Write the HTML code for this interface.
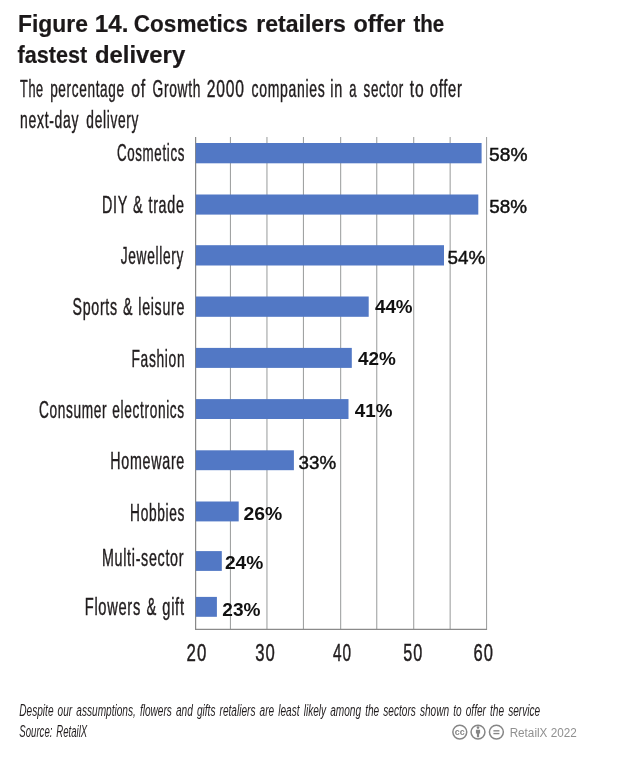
<!DOCTYPE html>
<html lang="en">
<head>
<meta charset="utf-8">
<title>Figure 14. Cosmetics retailers offer the fastest delivery</title>
<style>
html,body{margin:0;padding:0;background:#fff;}
body{width:619px;height:757px;overflow:hidden;}
svg{display:block;}
text{font-family:"Liberation Sans",Arial,Helvetica,sans-serif;fill:#211d1e;white-space:pre;}
.title{font-weight:bold;font-size:23.6px;fill:#1b1819;stroke:#1b1819;stroke-width:0.2px;}
.sub{font-size:24.4px;letter-spacing:1.2px;stroke:#211d1e;stroke-width:0.45px;}
.cat{font-size:24.4px;letter-spacing:1.2px;word-spacing:1px;stroke:#211d1e;stroke-width:0.45px;}
.tick{font-size:24px;letter-spacing:1.5px;stroke:#211d1e;stroke-width:0.45px;}
.vm{font-size:18.7px;fill:#111;stroke:#111;stroke-width:0.45px;}
.vb{font-size:18.7px;font-weight:bold;fill:#111;}
.foot{font-size:15.6px;font-style:italic;word-spacing:2px;}
.cr{font-size:12.3px;fill:#909090;}
.cc{font-weight:bold;fill:#868686;}
</style>
</head>
<body>
<svg width="619" height="757" viewBox="0 0 619 757" role="img" aria-label="Bar chart: percentage of Growth 2000 companies in a sector to offer next-day delivery">
<rect x="0" y="0" width="619" height="757" fill="#ffffff"/>
<g stroke="#a1a3a3" stroke-width="1.1" fill="none">
<line x1="230.45" y1="137.0" x2="230.45" y2="629.4"/>
<line x1="266.95" y1="137.0" x2="266.95" y2="629.4"/>
<line x1="303.45" y1="137.0" x2="303.45" y2="629.4"/>
<line x1="340.65" y1="137.0" x2="340.65" y2="629.4"/>
<line x1="376.75" y1="137.0" x2="376.75" y2="629.4"/>
<line x1="413.7" y1="137.0" x2="413.7" y2="629.4"/>
<line x1="450.15" y1="137.0" x2="450.15" y2="629.4"/>
<line x1="486.55" y1="137.0" x2="486.55" y2="629.4"/>
</g>
<g stroke="#7c7c7c" stroke-width="1.1" fill="none"><line x1="195.65" y1="137.0" x2="195.65" y2="629.9"/><line x1="195.15" y1="629.4" x2="487.05" y2="629.4" stroke="#8a8a8a"/></g>
<g fill="#5278c5">
<rect x="195.85" y="143.0" width="285.75" height="20.30"/>
<rect x="195.85" y="194.5" width="282.45" height="20.10"/>
<rect x="195.85" y="245.2" width="248.15" height="20.30"/>
<rect x="195.85" y="296.5" width="172.85" height="20.30"/>
<rect x="195.85" y="347.9" width="155.95" height="20.00"/>
<rect x="195.85" y="399.1" width="152.65" height="19.90"/>
<rect x="195.85" y="450.3" width="98.05" height="19.90"/>
<rect x="195.85" y="501.5" width="42.85" height="19.90"/>
<rect x="195.85" y="551.1" width="25.95" height="19.80"/>
<rect x="195.85" y="596.9" width="21.05" height="19.90"/>
</g>
<text class="title" y="32.20"><tspan x="17.97" textLength="69.92" lengthAdjust="spacingAndGlyphs">Figure</tspan> <tspan x="94.78" textLength="33.69" lengthAdjust="spacingAndGlyphs">14.</tspan> <tspan x="133.87" textLength="113.86" lengthAdjust="spacingAndGlyphs">Cosmetics</tspan> <tspan x="256.28" textLength="89.67" lengthAdjust="spacingAndGlyphs">retailers</tspan> <tspan x="353.39" textLength="51.97" lengthAdjust="spacingAndGlyphs">offer</tspan> <tspan x="413.44" textLength="30.78" lengthAdjust="spacingAndGlyphs">the</tspan></text>
<text class="title" y="63.00"><tspan x="17.62" textLength="69.65" lengthAdjust="spacingAndGlyphs">fastest</tspan> <tspan x="94.92" textLength="90.31" lengthAdjust="spacingAndGlyphs">delivery</tspan></text>
<text class="sub" y="96.90"><tspan x="20.03" textLength="23.74" lengthAdjust="spacingAndGlyphs">The</tspan> <tspan x="50.15" textLength="74.60" lengthAdjust="spacingAndGlyphs">percentage</tspan> <tspan x="131.28" textLength="14.73" lengthAdjust="spacingAndGlyphs">of</tspan> <tspan x="152.53" textLength="48.51" lengthAdjust="spacingAndGlyphs">Growth</tspan> <tspan x="206.76" textLength="37.88" lengthAdjust="spacingAndGlyphs">2000</tspan> <tspan x="251.53" textLength="73.83" lengthAdjust="spacingAndGlyphs">companies</tspan> <tspan x="330.27" textLength="12.64" lengthAdjust="spacingAndGlyphs">in</tspan> <tspan x="349.17" textLength="7.85" lengthAdjust="spacingAndGlyphs">a</tspan> <tspan x="363.55" textLength="40.41" lengthAdjust="spacingAndGlyphs">sector</tspan> <tspan x="409.81" textLength="14.57" lengthAdjust="spacingAndGlyphs">to</tspan> <tspan x="429.82" textLength="32.71" lengthAdjust="spacingAndGlyphs">offer</tspan></text>
<text class="sub" y="127.50"><tspan x="20.10" textLength="59.08" lengthAdjust="spacingAndGlyphs">next-day</tspan> <tspan x="86.35" textLength="52.73" lengthAdjust="spacingAndGlyphs">delivery</tspan></text>
<text class="cat" x="116.95" y="161.20" textLength="68.07" lengthAdjust="spacingAndGlyphs">Cosmetics</text>
<text class="cat" x="101.96" y="212.50" textLength="82.65" lengthAdjust="spacingAndGlyphs">DIY &amp; trade</text>
<text class="cat" x="120.71" y="263.90" textLength="63.26" lengthAdjust="spacingAndGlyphs">Jewellery</text>
<text class="cat" x="72.59" y="315.40" textLength="112.41" lengthAdjust="spacingAndGlyphs">Sports &amp; leisure</text>
<text class="cat" x="131.50" y="366.70" textLength="53.75" lengthAdjust="spacingAndGlyphs">Fashion</text>
<text class="cat" x="38.93" y="417.90" textLength="145.91" lengthAdjust="spacingAndGlyphs">Consumer electronics</text>
<text class="cat" x="110.36" y="469.30" textLength="74.65" lengthAdjust="spacingAndGlyphs">Homeware</text>
<text class="cat" x="130.10" y="521.00" textLength="54.94" lengthAdjust="spacingAndGlyphs">Hobbies</text>
<text class="cat" x="101.96" y="566.20" textLength="82.25" lengthAdjust="spacingAndGlyphs">Multi-sector</text>
<text class="cat" x="84.73" y="615.20" textLength="99.96" lengthAdjust="spacingAndGlyphs">Flowers &amp; gift</text>
<text class="vm" x="489.06" y="161.20" textLength="38.39" lengthAdjust="spacingAndGlyphs">58%</text>
<text class="vm" x="489.27" y="213.00" textLength="37.77" lengthAdjust="spacingAndGlyphs">58%</text>
<text class="vm" x="447.57" y="264.20" textLength="37.77" lengthAdjust="spacingAndGlyphs">54%</text>
<text class="vb" x="374.91" y="313.40" textLength="37.68" lengthAdjust="spacingAndGlyphs">44%</text>
<text class="vb" x="358.01" y="365.10" textLength="37.89" lengthAdjust="spacingAndGlyphs">42%</text>
<text class="vb" x="354.82" y="417.20" textLength="37.58" lengthAdjust="spacingAndGlyphs">41%</text>
<text class="vm" x="298.61" y="468.50" textLength="37.53" lengthAdjust="spacingAndGlyphs">33%</text>
<text class="vb" x="243.53" y="520.20" textLength="38.78" lengthAdjust="spacingAndGlyphs">26%</text>
<text class="vb" x="224.93" y="568.90" textLength="38.37" lengthAdjust="spacingAndGlyphs">24%</text>
<text class="vb" x="222.34" y="615.90" textLength="38.16" lengthAdjust="spacingAndGlyphs">23%</text>
<text class="tick" x="186.51" y="661.20" textLength="20.84" lengthAdjust="spacingAndGlyphs">20</text>
<text class="tick" x="255.22" y="661.20" textLength="20.61" lengthAdjust="spacingAndGlyphs">30</text>
<text class="tick" x="332.89" y="661.20" textLength="19.03" lengthAdjust="spacingAndGlyphs">40</text>
<text class="tick" x="403.20" y="661.20" textLength="20.09" lengthAdjust="spacingAndGlyphs">50</text>
<text class="tick" x="473.41" y="661.20" textLength="20.51" lengthAdjust="spacingAndGlyphs">60</text>
<text class="foot" x="19.29" y="715.70" textLength="520.89" lengthAdjust="spacingAndGlyphs">Despite our assumptions, flowers and gifts retaliers are least likely among the sectors shown to offer the service</text>
<text class="foot" x="19.33" y="737.10" textLength="67.87" lengthAdjust="spacingAndGlyphs">Source: RetailX</text>
<text class="cr" x="509.64" y="737.10" textLength="67.15" lengthAdjust="spacingAndGlyphs">RetailX 2022</text>
<g fill="none" stroke="#868686" stroke-width="1.5">
<circle cx="459.8" cy="732.1" r="6.95"/>
<circle cx="478.0" cy="732.1" r="6.95"/>
<circle cx="496.4" cy="732.1" r="6.95"/>
</g>
<text class="cc" x="454.8" y="734.55" font-size="8.9" textLength="9.9" lengthAdjust="spacingAndGlyphs">cc</text>
<g fill="#868686">
<circle cx="478.0" cy="727.6" r="1.3"/>
<path d="M475.9 729.7h4.2v3.7h-1v3.8h-2.2v-3.8h-1z"/>
<rect x="493.4" y="730.15" width="6.0" height="1.35"/>
<rect x="493.4" y="732.9" width="6.0" height="1.35"/>
</g>
</svg>
</body>
</html>
